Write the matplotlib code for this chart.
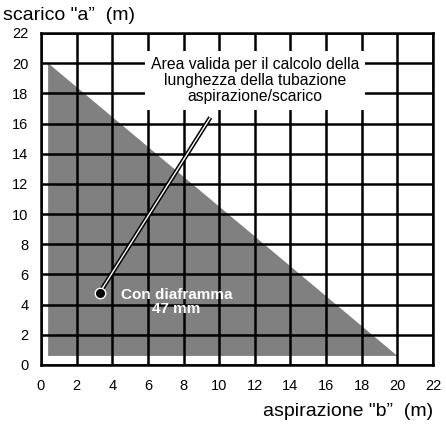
import matplotlib.pyplot as plt
import numpy as np

plt.rcParams['font.family'] = ['Liberation Sans', 'DejaVu Sans']

# valid region for pipe lengths (with 47 mm diaphragm)
area_b = [0.4, 0.4, 20.0]   # aspirazione "b" (m)
area_a = [0.6, 20.0, 0.6]   # scarico "a" (m)

ticks = np.arange(0, 24, 2)

# leader line from the marker to the note
leader_b = [3.3, 9.5]
leader_a = [4.8, 16.4]

fig = plt.figure(figsize=(4.46, 4.25), dpi=100)
ax = fig.add_axes([0.0919, 0.1412, 0.879, 0.7812])

ax.fill(area_b, area_a, color='#808080', lw=0, zorder=1)

ax.set_xlim(0, 22)
ax.set_ylim(0, 22)
ax.set_xticks(ticks)
ax.set_yticks(ticks)
ax.set_axisbelow(False)
ax.grid(True, color='black', lw=1.8)
for s in ax.spines.values():
    s.set_linewidth(1.8)
    s.set_zorder(3)
ax.tick_params(length=0, labelsize=10.5)
ax.tick_params(axis='y', pad=9)
ax.tick_params(axis='x', pad=10)

# double line: black outline with white core
ax.plot(leader_b, leader_a, color='black', lw=3.2, zorder=4, solid_capstyle='butt')
ax.plot(leader_b, leader_a, color='white', lw=1.0, zorder=4.1, solid_capstyle='butt')
# end marker: white halo under a solid black dot
ax.plot(leader_b[0], leader_a[0], marker='o', ms=8.5, mfc='white', mec='none',
        ls='none', zorder=4.2)
ax.plot(leader_b[0], leader_a[0], marker='o', ms=6.5, mfc='black', mec='none',
        ls='none', zorder=4.3)

ax.text(12.0, 18.85, 'Area valida per il calcolo della\nlunghezza della tubazione\naspirazione/scarico',
        ha='center', va='center', fontsize=11.3, linespacing=1.1, zorder=6,
        bbox=dict(fc='white', ec='none', pad=4))

ax.text(7.6, 4.2, 'Con diaframma\n47 mm', ha='center', va='center',
        color='white', fontweight='bold', fontsize=11, linespacing=1.0, zorder=5)

fig.text(0.007, 0.952, 'scarico "a”  (m)', fontsize=14, ha='left', va='baseline')
fig.text(0.971, 0.022, 'aspirazione "b”  (m)', fontsize=14, ha='right', va='baseline')

fig.savefig('out.png', dpi=100)
